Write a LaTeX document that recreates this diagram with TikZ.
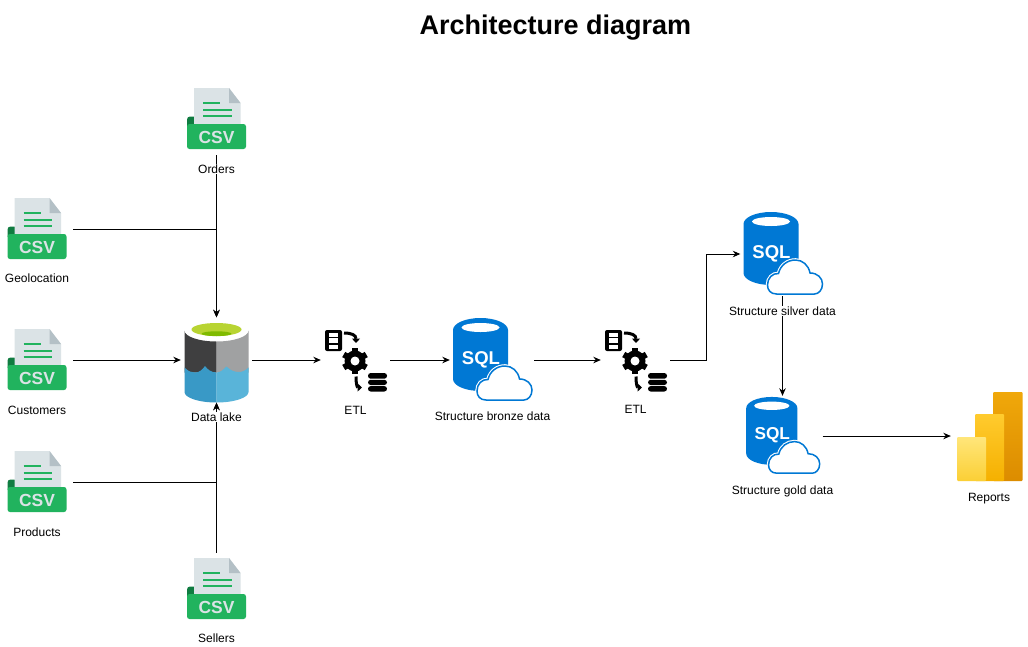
\documentclass[tikz,border=0pt]{standalone}
\usepackage{fontspec}
\setmainfont{Liberation Sans}
\usetikzlibrary{arrows.meta}
\definecolor{csvgreen}{HTML}{21B35E}
\definecolor{csvdark}{HTML}{107C41}
\definecolor{csvpaper}{HTML}{DBE3E6}
\definecolor{csvfold}{HTML}{B4C0C6}
\definecolor{sqlblue}{HTML}{0078D4}
\definecolor{lakedark}{HTML}{3F3F40}
\definecolor{lakegrey}{HTML}{A0A1A2}
\definecolor{lakeblue}{HTML}{3999C6}
\definecolor{lakesky}{HTML}{59B4D9}
\definecolor{lakelime}{HTML}{B8D432}
\definecolor{lakemoss}{HTML}{7FBA00}
\definecolor{barhigh}{HTML}{F0A80A}
\definecolor{barlow}{HTML}{DC8C00}
\definecolor{barmidhigh}{HTML}{FFCB2E}
\definecolor{barmidlow}{HTML}{F5B000}
\definecolor{barsmallhigh}{HTML}{FFE67A}
\definecolor{barsmalllow}{HTML}{FBCF35}
\tikzset{
  link/.style={line width=0.9pt,-{Stealth[length=7.5pt,width=6.5pt]}},
  lbl/.style={fill=white,inner sep=1pt,font=\fontsize{12}{14}\selectfont},
  csvbox/.style={minimum width=72pt,minimum height=72pt,inner sep=0pt},
  etlbox/.style={minimum width=69pt,minimum height=69pt,inner sep=0pt},
  sqlbox/.style={minimum width=84pt,minimum height=84pt,inner sep=0pt},
  pics/csvicon/.style={code={
    \fill[csvdark,rounded corners=3pt] (-29.5,10) -- (-29.5,-2.5) -- (-20,-2.5) -- (-20,10) -- cycle;
    \fill[csvpaper] (-22.5,-31) -- (12.5,-31) -- (24,-16) -- (24,8) -- (-22.5,8) -- cycle;
    \fill[csvfold] (12.5,-31) -- (24,-16) -- (12.5,-16) -- cycle;
    \draw[csvgreen,line width=2pt] (-13.5,-16.3) -- (3.5,-16.3);
    \foreach \ly in {-9.5,-3}{
      \draw[csvgreen,line width=2pt] (-13.5,\ly) -- (15,\ly);
    }
    \fill[csvgreen,rounded corners=2.5pt] (-29.5,5) rectangle (29.5,30);
    \node[text=csvpaper,inner sep=0pt,font=\bfseries\fontsize{17.5}{18}\selectfont] at (0,18) {CSV};
  }},
  pics/lakeicon/.style={code={
    \fill[lakedark] (-32,-30) -- (-32,12) -- (0,12) -- (0,-19) arc[start angle=90,end angle=180,x radius=32,y radius=11] -- cycle;
    \fill[lakegrey] (32,-30) -- (32,12) -- (0,12) -- (0,-19) arc[start angle=90,end angle=0,x radius=32,y radius=11] -- cycle;
    \fill[white] (0,-30.5) ellipse[x radius=32,y radius=10.5];
    \fill[lakelime] (0,-31) ellipse[x radius=25,y radius=6.5];
    \fill[lakemoss] (0,-26.8) ellipse[x radius=15,y radius=2.4];
    \fill[lakeblue] (-32,7) .. controls (-28,11) and (-25,12) .. (-21.5,12) .. controls (-17,12) and (-14,9) .. (-11.5,5.5) .. controls (-9,9) and (-5,12) .. (0,12) -- (0,42) arc[start angle=90,end angle=180,x radius=32,y radius=10.5] -- cycle;
    \fill[lakesky] (0,12) .. controls (4,12) and (7,9) .. (10,6) .. controls (13,9) and (17,11.5) .. (22,11.5) .. controls (26,11.5) and (29,10) .. (32,7) -- (32,31.5) arc[start angle=0,end angle=90,x radius=32,y radius=10.5] -- cycle;
  }},
  pics/etlicon/.style={code={
    \fill[black,rounded corners=2pt] (-30.5,-30) rectangle (-13.5,-9);
    \foreach \ya/\yb in {-26.7/-23.3,-21.7/-17.3,-15/-11}{
      \fill[white] (-26.5,\ya) rectangle (-17.5,\yb);
    }
    \draw[line width=3pt,-{Triangle[length=4.5pt,width=8pt]}] (-11.5,-27) .. controls (-4,-27) and (0.5,-25) .. (0.5,-17);
    \foreach \a in {30,90,...,330}{
      \draw[line width=6pt,shift={(-0.5,1)}] (\a:8) -- (\a:13);
    }
    \fill[black] (-0.5,1) circle[radius=10.5];
    \fill[white] (-0.5,1) circle[radius=4.5];
    \draw[line width=3pt,-{Triangle[length=4.5pt,width=8pt]}] (0.5,16.5) .. controls (0.5,25) and (2,27.5) .. (6.5,27.5);
    \foreach \ya/\yb in {13/18.7,19.8/25,26.1/31.5}{
      \fill[black,rounded corners=2.7pt] (12.5,\ya) rectangle (31.5,\yb);
    }
  }},
  pics/sqlicon/.style={code={
    \fill[sqlblue] (-39,-30) arc[start angle=180,end angle=360,x radius=27.5,y radius=12] -- (16,19) arc[start angle=0,end angle=180,x radius=27.5,y radius=12] -- cycle;
    \fill[white] (-11.5,-32.5) ellipse[x radius=19,y radius=4.5];
    \node[text=white,inner sep=0pt,transform shape,font=\bfseries\fontsize{18.5}{18.5}\selectfont] at (-11,-0.5) {SQL};
    \draw[white,line width=3.6pt,fill=white,xshift=-1pt] (-5,40) .. controls (-11,40) and (-14,36) .. (-14,31) .. controls (-14,24) and (-9,19) .. (-3,19.5) .. controls (-1,11) and (6,6) .. (14,6) .. controls (21,6) and (27,11) .. (28.5,19) .. controls (36,19) and (41,24) .. (41,30) .. controls (41,36) and (37,40) .. (33,40) -- cycle;
    \draw[sqlblue,line width=1.5pt,xshift=-1pt] (-5,40) .. controls (-11,40) and (-14,36) .. (-14,31) .. controls (-14,24) and (-9,19) .. (-3,19.5) .. controls (-1,11) and (6,6) .. (14,6) .. controls (21,6) and (27,11) .. (28.5,19) .. controls (36,19) and (41,24) .. (41,30) .. controls (41,36) and (37,40) .. (33,40) -- cycle;
  }},
  pics/reporticon/.style={code={
    \shade[top color=barhigh,bottom color=barlow,rounded corners=1pt] (3.5,-44) rectangle (33,45);
    \shade[top color=barmidhigh,bottom color=barmidlow,rounded corners=1pt] (-14.5,-22) rectangle (14.5,45);
    \shade[top color=barsmallhigh,bottom color=barsmalllow,rounded corners=1pt] (-32.5,1) rectangle (-3.5,45);
  }},
}
\begin{document}
\begin{tikzpicture}[x=1pt,y=-1pt]
    \path[fill=white,use as bounding box] (0,0) rectangle (1028,646);
    \node[font=\bfseries\fontsize{27}{27}\selectfont,inner sep=0pt] (title) at (555.5,27.5) {Architecture diagram};
    \foreach \name/\x/\y in {orders/216.5/119,geolocation/37/229,customers/37/360,products/37/482,sellers/216.5/589}{
      \node[csvbox] (\name) at (\x,\y) {};
      \pic at (\x,\y) {csvicon};
    }
    \node[minimum width=71pt,minimum height=85pt,inner sep=0pt] (datalake) at (216.5,360) {};
    \pic at (216.5,360.5) {lakeicon};
    \node[etlbox] (etlone) at (355.5,360) {};
    \pic at (etlone) {etlicon};
    \node[etlbox] (etltwo) at (635.5,360) {};
    \pic at (etltwo) {etlicon};
    \node[sqlbox] (bronze) at (492,360) {};
    \pic at (bronze) {sqlicon};
    \node[sqlbox] (silver) at (782.5,254) {};
    \pic at (silver) {sqlicon};
    \node[minimum width=80pt,minimum height=80pt,inner sep=0pt] (gold) at (782.5,436) {};
    \pic[scale=0.93] at (gold) {sqlicon};
    \node[minimum width=77pt,minimum height=90pt,inner sep=0pt] (reports) at (989.5,436) {};
    \pic at (reports) {reporticon};
    \draw[link] (orders) -- (datalake);
    \draw[link] (geolocation) -| (datalake);
    \draw[link] (customers) -- (datalake);
    \draw[link] (products) -| (datalake);
    \draw[link] (sellers) -- (datalake);
    \draw[link] (datalake) -- (etlone);
    \draw[link] (etlone) -- (bronze);
    \draw[link] (bronze) -- (etltwo);
    \draw[link] (etltwo.east) -- ++(36,0) |- (silver.west);
    \draw[link] (silver) -- (gold);
    \draw[link] (gold) -- (reports);
    \foreach \txt/\x/\y in {Orders/216.5/169,Geolocation/37/278,Customers/37/410,Products/37/532,Sellers/216.5/638,Data lake/216.5/417,ETL/355.5/410,ETL/635.5/409,Structure bronze data/492.5/416,Structure silver data/782.5/311,Structure gold data/782.5/491,Reports/989/499}{
      \node[lbl] at (\x,\y) {\txt};
    }
\end{tikzpicture}
\end{document}
